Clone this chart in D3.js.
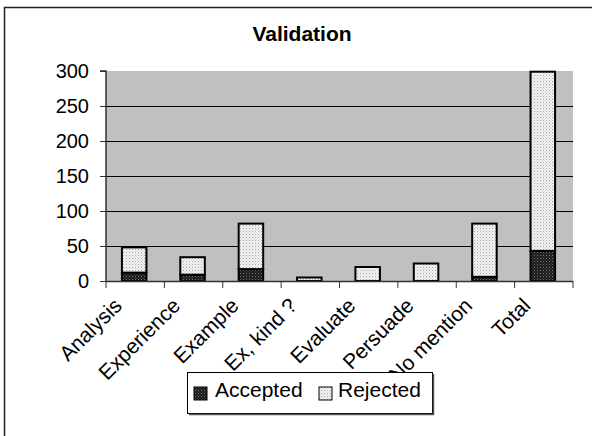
<!DOCTYPE html>
<html><head><meta charset="utf-8">
<script src="https://cdn.jsdelivr.net/npm/d3@7"></script>
<style>html,body{margin:0;padding:0;background:#fff}svg{display:block;font-family:"Liberation Sans",Arial,sans-serif}</style>
</head><body><svg id="c" width="592" height="436"></svg>
<script>
const categories = ["Analysis","Experience","Example","Ex, kind ?","Evaluate","Persuade","No mention","Total"];
const accepted = [12, 9, 17, 0, 0, 0, 6, 43];
const rejected = [36, 25, 65, 5, 20, 25, 76, 256];
const yTicks = [0, 50, 100, 150, 200, 250, 300];
const seriesNames = ["Accepted", "Rejected"];

const svg = d3.select("#c");
const defs = svg.append("defs");
const pA = defs.append("pattern").attr("id","patA").attr("width",3).attr("height",3).attr("patternUnits","userSpaceOnUse");
pA.append("rect").attr("width",3).attr("height",3).attr("fill","#1a1a1a");
pA.append("rect").attr("x",0).attr("y",0).attr("width",1).attr("height",1).attr("fill","#777");
pA.append("rect").attr("x",1.5).attr("y",1.5).attr("width",1).attr("height",1).attr("fill","#555");
const pR = defs.append("pattern").attr("id","patR").attr("width",3).attr("height",3).attr("patternUnits","userSpaceOnUse");
pR.append("rect").attr("width",3).attr("height",3).attr("fill","#f2f2f2");
pR.append("rect").attr("x",0).attr("y",0).attr("width",1).attr("height",1).attr("fill","#a8a8a8");
pR.append("rect").attr("x",1.5).attr("y",1.5).attr("width",1).attr("height",1).attr("fill","#c8c8c8");

svg.append("rect").attr("x",4.5).attr("y",7.5).attr("width",620).attr("height",460)
  .attr("fill","none").attr("stroke","#222").attr("stroke-width",1.5);

const L = 106, R = 573, T = 71, B = 281;
const x = d3.scaleBand().domain(categories).range([L, R]).padding(0);
const y = d3.scaleLinear().domain([0, 300]).range([B, T]);

svg.append("text").attr("x",302).attr("y",41).attr("text-anchor","middle")
  .attr("font-weight","bold").attr("font-size",21).text("Validation");

svg.append("rect").attr("x",L).attr("y",T).attr("width",R-L).attr("height",B-T).attr("fill","#c0c0c0");

svg.append("g").selectAll("line").data(yTicks.filter(v=>v>0 && v<300)).join("line")
  .attr("x1",L).attr("x2",R).attr("y1",d=>Math.round(y(d))+0.5).attr("y2",d=>Math.round(y(d))+0.5)
  .attr("stroke","#000").attr("stroke-width",1);

const bw = x.bandwidth()*0.42;
const g = svg.append("g");
categories.forEach((c,i)=>{
  const cx = x(c) + x.bandwidth()/2 - 1;
  const a = accepted[i], r = rejected[i];
  if (a > 0) g.append("rect").attr("x",cx-bw/2).attr("y",y(a)).attr("width",bw).attr("height",y(0)-y(a))
    .attr("fill","url(#patA)").attr("stroke","#000").attr("stroke-width",2);
  if (r > 0) g.append("rect").attr("x",cx-bw/2).attr("y",y(a+r)).attr("width",bw).attr("height",y(a)-y(a+r))
    .attr("fill","url(#patR)").attr("stroke","#000").attr("stroke-width",2);
});

const ya = svg.append("g").attr("transform",`translate(${L},0)`)
  .call(d3.axisLeft(y).tickValues(yTicks).tickSize(6).tickPadding(11));
ya.select(".domain").attr("stroke","#333").attr("stroke-width",1.5).attr("d",`M-6,${T}H0V${B}`);
ya.selectAll(".tick line").attr("stroke","#333");
ya.selectAll("text").attr("font-size",20).attr("fill","#000").attr("font-family","Liberation Sans, Arial, sans-serif");

const xa = svg.append("g").attr("transform",`translate(0,${B})`);
xa.append("line").attr("x1",L).attr("x2",R).attr("y1",0.5).attr("y2",0.5).attr("stroke","#333").attr("stroke-width",1.5);
xa.selectAll("line.tk").data(d3.range(categories.length+1)).join("line").attr("class","tk")
  .attr("x1",i=>L+i*x.step()).attr("x2",i=>L+i*x.step()).attr("y1",0).attr("y2",7)
  .attr("stroke","#333").attr("stroke-width",1);
xa.selectAll("text").data(categories).join("text")
  .attr("transform",d=>`translate(${x(d)+x.bandwidth()/2-12},26) rotate(-45)`)
  .attr("text-anchor","end").attr("font-size",21).text(d=>d);

const lg = svg.append("g");
lg.append("rect").attr("x",187.5).attr("y",372.5).attr("width",245).attr("height",41)
  .attr("fill","#fff").attr("stroke","#000").attr("stroke-width",1);
lg.append("line").attr("x1",433.5).attr("x2",433.5).attr("y1",374).attr("y2",415).attr("stroke","#555").attr("stroke-width",1.5);
lg.append("line").attr("x1",189).attr("x2",434).attr("y1",414.5).attr("y2",414.5).attr("stroke","#555").attr("stroke-width",1.5);
const items = [{n:seriesNames[0], f:"url(#patA)", sx:194, tx:215},{n:seriesNames[1], f:"url(#patR)", sx:319, tx:338}];
items.forEach(it=>{
  lg.append("rect").attr("x",it.sx).attr("y",387).attr("width",13).attr("height",13)
    .attr("fill",it.f).attr("stroke","#000").attr("stroke-width",1);
  lg.append("text").attr("x",it.tx).attr("y",397).attr("font-size",21).text(it.n);
});
</script></body></html>
